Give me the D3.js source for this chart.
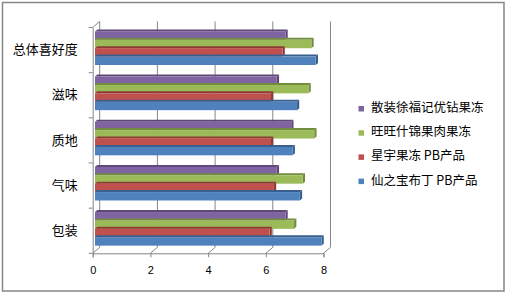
<!DOCTYPE html>
<html><head><meta charset="utf-8">
<script src="https://cdn.jsdelivr.net/npm/d3@7"></script>
<style>
body{margin:0;background:#fff;}
svg{display:block;}
text{font-family:"Noto Sans CJK SC","SimSun",sans-serif;fill:#000;}
</style></head>
<body>
<svg id="c" width="508" height="295"></svg>
<script>
const categories = ["总体喜好度","滋味","质地","气味","包装"];
const seriesNames = ["散装徐福记优钻果冻","旺旺什锦果肉果冻","星宇果冻 PB产品","仙之宝布丁 PB产品"];
const seriesColors = ["#8064A2","#9BBB59","#C0504D","#4F81BD"];
const seriesSide = ["#5E4879","#728C3E","#8F3A37","#385F8F"];
const purpleVals = [6.6, 6.3, 6.8, 6.3, 6.6];
const greenVals  = [7.5, 7.4, 7.6, 7.2, 6.9];
const redVals    = [6.5, 6.1, 6.1, 6.2, 6.05];
const blueVals   = [7.65, 7.0, 6.85, 7.1, 7.85];
const tickValues = [0,2,4,6,8];
const seriesVals = [purpleVals, greenVals, redVals, blueVals];

const svg = d3.select("#c");
// outer border
svg.append("rect").attr("x",2.5).attr("y",2.5).attr("width",501.5).attr("height",288.5)
  .attr("fill","none").attr("stroke","#868686").attr("stroke-width",1.5);

const x = d3.scaleLinear().domain([0,8]).range([92.7,323.5]);
const yBand = d3.scaleBand().domain(categories).range([27.5,253.3]);
const DX = 7, DY = -6;       // back wall offset
const BX = 2.3, BY = -2;     // bar depth offset
const yTop = 27.5, yBot = 253.3;
const grid = "#868686";

const g = svg.append("g");
// back wall gridlines
tickValues.forEach(v=>{
  g.append("line").attr("x1",x(v)+DX).attr("x2",x(v)+DX)
    .attr("y1",yTop+DY).attr("y2",yBot+DY).attr("stroke",grid).attr("stroke-width",1);
  // floor diagonals
  g.append("line").attr("x1",x(v)).attr("y1",yBot).attr("x2",x(v)+DX).attr("y2",yBot+DY)
    .attr("stroke",grid).attr("stroke-width",1);
});
// top-left diagonal
g.append("line").attr("x1",x(0)).attr("y1",yTop).attr("x2",x(0)+DX).attr("y2",yTop+DY)
  .attr("stroke",grid).attr("stroke-width",1);

// bars
const barH = 8.4;
categories.forEach((c,ci)=>{
  const b0 = yBand(c) + 3.9;
  seriesVals.forEach((vals,si)=>{
    const v = vals[ci];
    const x0 = x(0)+BX, x1 = x(v)+BX;
    const y0 = b0 + si*barH, y1 = y0 + barH;
    // top face
    g.append("path").attr("d",`M${x0},${y0}L${x0+BX},${y0+BY}L${x1+BX},${y0+BY}L${x1},${y0}Z`)
      .attr("fill",seriesSide[si]);
    // side face
    g.append("path").attr("d",`M${x1},${y0}L${x1+BX},${y0+BY}L${x1+BX},${y1+BY}L${x1},${y1}Z`)
      .attr("fill",seriesSide[si]);
    // front face
    g.append("rect").attr("x",x0).attr("y",y0).attr("width",x1-x0).attr("height",barH)
      .attr("fill",seriesColors[si]);
  });
});

// front axes
const ax = svg.append("g").attr("transform",`translate(0,${yBot})`)
  .call(d3.axisBottom(x).tickValues(tickValues).tickSize(4).tickPadding(9).tickFormat(d3.format("d")));
ax.select(".domain").attr("stroke",grid);
ax.selectAll(".tick line").attr("stroke",grid);
ax.selectAll("text").attr("font-size",11).style("font-family","'Liberation Sans',Arial,sans-serif");

const ay = svg.append("g").attr("transform",`translate(${x(0)},0)`)
  .call(d3.axisLeft(yBand).tickSize(0).tickPadding(15));
ay.select(".domain").attr("stroke",grid);
ay.selectAll("text").attr("font-size",13);
// category boundary ticks
[...categories.map(c=>yBand(c)), yBot].forEach(yv=>{
  svg.append("line").attr("x1",x(0)-4).attr("x2",x(0)).attr("y1",yv).attr("y2",yv).attr("stroke",grid);
});

// legend
const lg = svg.append("g");
seriesNames.forEach((n,i)=>{
  const yy = 107.5 + i*24.2;
  lg.append("rect").attr("x",358.5).attr("y",yy-1.5).attr("width",5.5).attr("height",5.5)
    .attr("fill",seriesColors[i]);
  lg.append("text").attr("x",371).attr("y",yy).attr("dy","0.36em")
    .attr("font-size",12.5).text(n);
});
</script>
</body></html>
